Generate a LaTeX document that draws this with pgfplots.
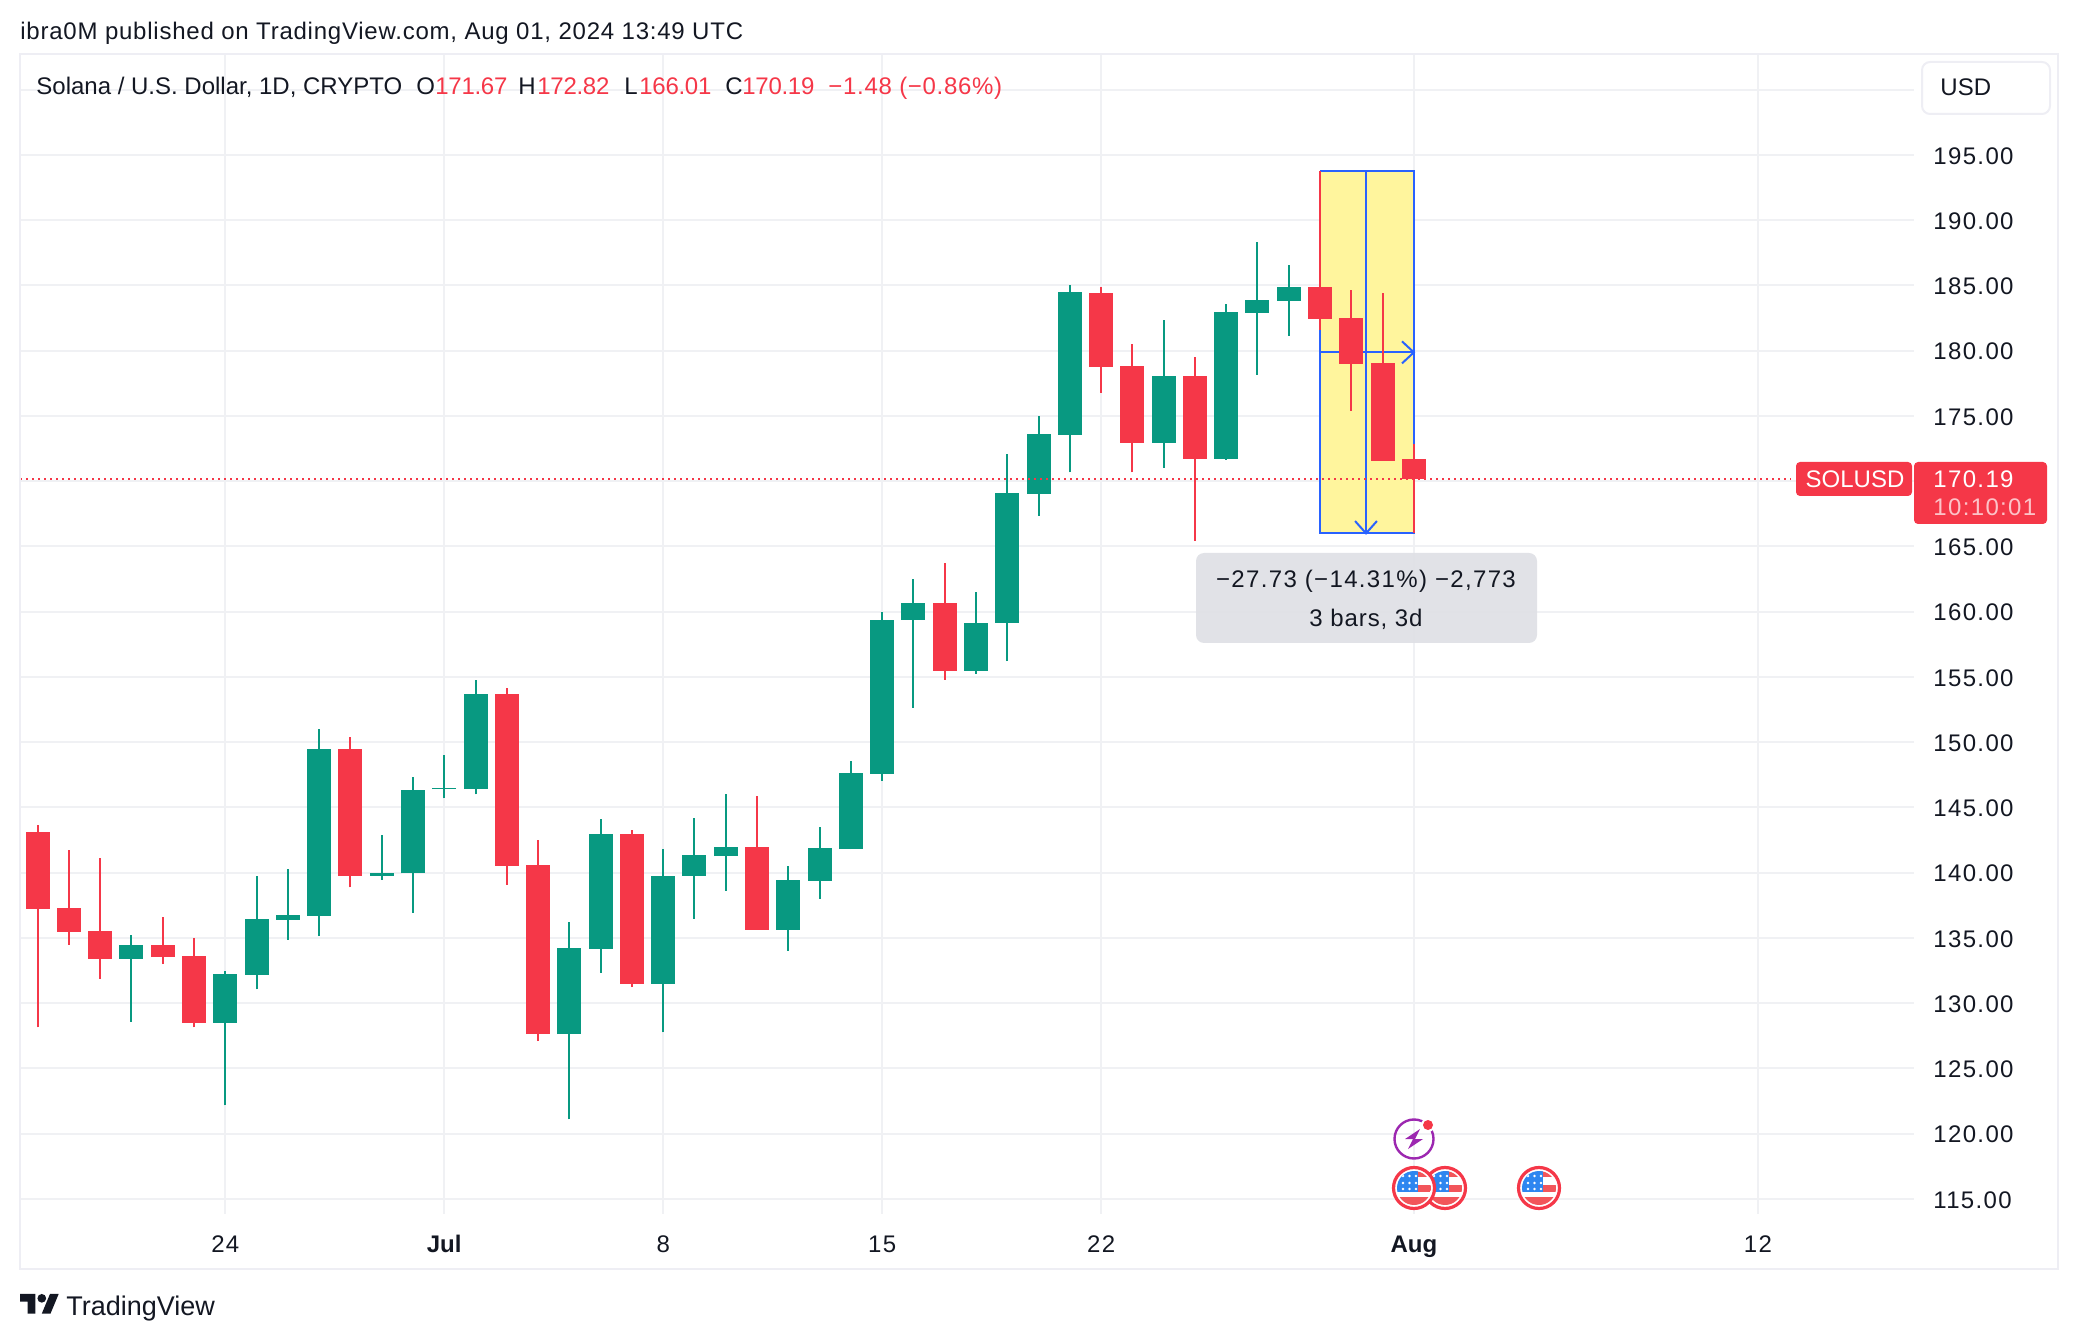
\documentclass[border=0pt]{standalone}
\usepackage{pgfplots}
\pgfplotsset{compat=1.18}
\usepackage{pgfplotstable}
\usepackage{fontspec}
\setmainfont{Liberation Sans}
\newfontfamily\tickfont{Liberation Sans}[LetterSpace=5.6]
\newfontfamily\titlefont{Liberation Sans}[LetterSpace=3.2]
\newfontfamily\pctfont{Liberation Sans}[LetterSpace=2.9]
\newfontfamily\valfont{Liberation Sans}[LetterSpace=-1.2]
\newfontfamily\tipfont{Liberation Sans}[LetterSpace=3.8]

\definecolor{up}{HTML}{089981}
\definecolor{down}{HTML}{F53748}
\definecolor{txt}{HTML}{131722}
\definecolor{gridc}{HTML}{F0F1F4}
\definecolor{framec}{HTML}{EEEEF4}
\definecolor{bluec}{HTML}{2962FF}
\definecolor{yellowc}{HTML}{FFF59D}
\definecolor{purplec}{HTML}{9C27B0}
\definecolor{flagblue}{HTML}{2E86F0}
\definecolor{flagred}{HTML}{F2555A}
\definecolor{tipc}{HTML}{DFE0E5}

% day (24 Jun = 0), open, high, low, close
\pgfplotstableread{
d open high low close
-6 143.13 143.68 128.16 137.25
-5 137.31 141.76 134.48 135.47
-4 135.52 141.15 131.87 133.41
-2 134.45 136.59 133.00 133.54
-1 133.60 135.00 128.16 128.49
4 149.50 150.40 138.87 139.78
9 153.70 154.18 139.09 140.55
10 140.60 142.53 127.09 127.64
13 143.00 143.30 131.24 131.48
17 141.96 145.87 135.64 135.64
23 160.67 163.70 154.77 155.46
28 184.44 184.90 176.78 178.77
29 178.84 180.53 170.67 172.94
31 178.08 179.53 165.43 171.72
35 184.90 193.74 181.60 182.45
36 182.50 184.65 175.40 179.00
37 179.06 184.42 171.57 171.57
38 171.67 172.82 166.01 170.19
}\downdays
\pgfplotstableread{
d open high low close
-3 133.41 135.22 128.60 134.45
0 128.49 132.44 122.17 132.23
1 132.17 139.75 131.07 136.46
2 136.40 140.30 134.86 136.76
3 136.70 151.03 135.14 149.50
5 139.78 142.90 139.48 140.00
6 139.95 147.30 136.95 146.37
7 146.40 149.00 145.70 146.50
8 146.40 154.80 146.00 153.70
11 127.64 136.20 121.10 134.23
12 134.18 144.15 132.34 143.00
14 131.48 141.84 127.77 139.75
15 139.78 144.23 136.48 141.37
16 141.28 146.02 138.62 141.96
18 135.64 140.51 134.03 139.44
19 139.39 143.49 138.01 141.89
20 141.81 148.55 141.81 147.63
21 147.58 159.98 147.04 159.37
22 159.40 162.50 152.63 160.67
24 155.46 161.50 155.23 159.15
25 159.15 172.10 156.22 169.11
26 169.04 175.01 167.35 173.63
27 173.56 185.05 170.67 184.51
30 172.94 182.37 171.03 178.08
32 171.72 183.60 171.64 182.98
33 182.90 188.30 178.15 183.90
34 183.82 186.58 181.14 184.90
}\updays

% flag icon, radius 22 px
\newcommand{\usflag}[2]{%
  \begin{scope}[shift={(#1,#2)}]
    \fill[white] (0,0) circle (21);
    \begin{scope}
      \clip (0,0) circle (17);
      \fill[flagred] (0,-17) rectangle (17,-11);
      \fill[flagred] (0,-3) rectangle (17,4);
      \fill[flagred] (-17,9) rectangle (17,17);
      \fill[flagblue] (-17,-17) rectangle (4,4);
      \foreach \sx in {-11,-4.5,2}{\foreach \sy in {-12,-5,1}{\fill[white] (\sx,\sy) circle (1.4);}}
    \end{scope}
    \draw[down,line width=1.6pt] (0,0) circle (20.5);
  \end{scope}}

\begin{document}
\begin{tikzpicture}
\useasboundingbox (0,0) rectangle (1039pt,670pt);
\begin{axis}[
    at={(10pt,63pt)}, anchor=south west,
    scale only axis,
    width=947pt, height=580pt,
    xmin=-6.563, xmax=53.99,
    ymin=113.85, ymax=202.74,
    axis line style={draw=none},
    major tick length=0pt,
    clip=false,
    grid=major,
    grid style={gridc, line width=1pt},
    font=\fontsize{12}{14}\selectfont\color{txt},
    xtick={0,7,14,21,28,38,49},
    xticklabels={{\tickfont 24},\textbf{Jul},{\tickfont 8},{\tickfont 15},{\tickfont 22},\textbf{Aug},{\tickfont 12}},
    xticklabel style={anchor=base, inner sep=0pt, yshift=-19pt},
    ytick={115,120,...,200},
    yticklabels={115.00,120.00,125.00,130.00,135.00,140.00,145.00,150.00,155.00,160.00,165.00,,175.00,180.00,185.00,190.00,195.00,},
    yticklabel pos=right,
    yticklabel style={anchor=west, inner sep=0pt, xshift=9.5pt, yshift=-0.4pt, font=\fontsize{12}{14}\tickfont\color{txt}},
    wick/.style={forget plot, draw=none, mark=none,
      error bars/.cd, y dir=plus, y explicit, error mark=none,
      error bar style={#1, line width=1pt}},
    body/.style={forget plot, draw=none, mark=none,
      error bars/.cd, y dir=plus, y explicit, error mark=none,
      error bar style={#1, line width=12pt}},
]
% long position box
\addplot[fill=yellowc, draw=none, forget plot] coordinates {(35,193.74) (38,193.74) (38,166.01) (35,166.01)} -- cycle;
\addplot[bluec, line width=1pt, forget plot] coordinates {(35,193.74) (38,193.74) (38,166.01) (35,166.01) (35,193.74)};
\addplot[bluec, line width=1pt, forget plot] coordinates {(36.47,193.74) (36.47,166.01)};
\addplot[bluec, line width=1pt, forget plot] coordinates {(36.12,166.95) (36.47,166.01) (36.82,166.95)};
\addplot[bluec, line width=1pt, forget plot] coordinates {(35,179.875) (38,179.875)};
\addplot[bluec, line width=1pt, forget plot] coordinates {(37.62,180.72) (38,179.875) (37.62,179.03)};
% candles
\addplot[wick=up] table[x=d, y=low, y error plus expr=\thisrow{high}-\thisrow{low}] {\updays};
\addplot[body=up] table[x=d, y=open, y error plus expr=\thisrow{close}-\thisrow{open}] {\updays};
\addplot[wick=down] table[x=d, y=low, y error plus expr=\thisrow{high}-\thisrow{low}] {\downdays};
\addplot[body=down] table[x=d, y=close, y error plus expr=\thisrow{open}-\thisrow{close}] {\downdays};
% last price
\addplot[down, line width=1pt, dash pattern=on 1pt off 2pt, forget plot] coordinates {(-6.563,170.19) (50.05,170.19)};
\end{axis}

\begin{scope}[x=0.5pt, y=-0.5pt, yshift=670pt, font=\fontsize{12}{14}\selectfont, every node/.style={inner sep=0pt, text=txt}]
  % frame
  \draw[framec, line width=1pt] (20,54) rectangle (2058,1269);
  \node[anchor=base west] at (20,40) {\titlefont ibra0M published on TradingView.com, Aug 01, 2024 13:49 UTC};
  % OHLC legend
  \node[anchor=base west] at (36,95) {Solana / U.S. Dollar, 1D, CRYPTO};
  \node[anchor=base west] at (416,95) {O};
  \node[anchor=base west, text=down] at (435,95) {\valfont 171.67};
  \node[anchor=base west] at (518,95) {H};
  \node[anchor=base west, text=down] at (537,95) {\valfont 172.82};
  \node[anchor=base west] at (624,95) {L};
  \node[anchor=base west, text=down] at (639,95) {\valfont 166.01};
  \node[anchor=base west] at (725,95) {C};
  \node[anchor=base west, text=down] at (742,95) {\valfont 170.19};
  \node[anchor=base west, text=down] at (828,95) {\pctfont −1.48 (−0.86\%)};
  % currency button
  \filldraw[fill=white, draw=framec, line width=1pt, rounded corners=4pt] (1922,62) rectangle (2050,114);
  \node[anchor=base west] at (1940,96) {USD};
  % price tags
  \fill[down, rounded corners=2pt] (1796,462) rectangle (1912,496);
  \fill[down, rounded corners=2pt] (1914,462) rectangle (2047,524);
  \node[anchor=base, text=white] at (1855,488) {SOLUSD};
  \node[anchor=base west, text=white] at (1933,488) {\tickfont 170.19};
  \node[anchor=base west, text=white, text opacity=0.7] at (1933,516) {\tickfont 10:10:01};
  % measure tooltip
  \fill[fill=tipc, fill opacity=0.93, rounded corners=4pt] (1196,553) rectangle (1537,643);
  \node[anchor=base] at (1366,588) {\tickfont −27.73 (−14.31\%) −2,773};
  \node[anchor=base] at (1366,627) {\tipfont 3 bars, 3d};
  % events
  \draw[purplec, line width=1.2pt] (1414,1139) circle (19.5);
  \fill[purplec] (1420,1129) -- (1405,1139) -- (1413,1139) -- (1408,1149) -- (1423,1139) -- (1415,1139) -- cycle;
  \fill[white] (1428,1125) circle (7);
  \fill[down] (1428,1125) circle (5);
  \usflag{1445}{1188}
  \usflag{1539}{1188}
  \usflag{1414}{1188}
  % logo
  \begin{scope}[shift={(20,1289.6)}, x=0.545pt, y=-0.545pt]
    \fill[txt] (14,22) -- (7,22) -- (7,11) -- (0,11) -- (0,4) -- (14,4) -- cycle;
    \fill[txt] (28,22) -- (20,22) -- (27.5,4) -- (35.5,4) -- cycle;
    \fill[txt] (20,8) circle (4);
  \end{scope}
  \node[anchor=base west, font=\fontsize{13.5}{15}\selectfont] at (66,1315) {TradingView};
\end{scope}
\end{tikzpicture}
\end{document}
